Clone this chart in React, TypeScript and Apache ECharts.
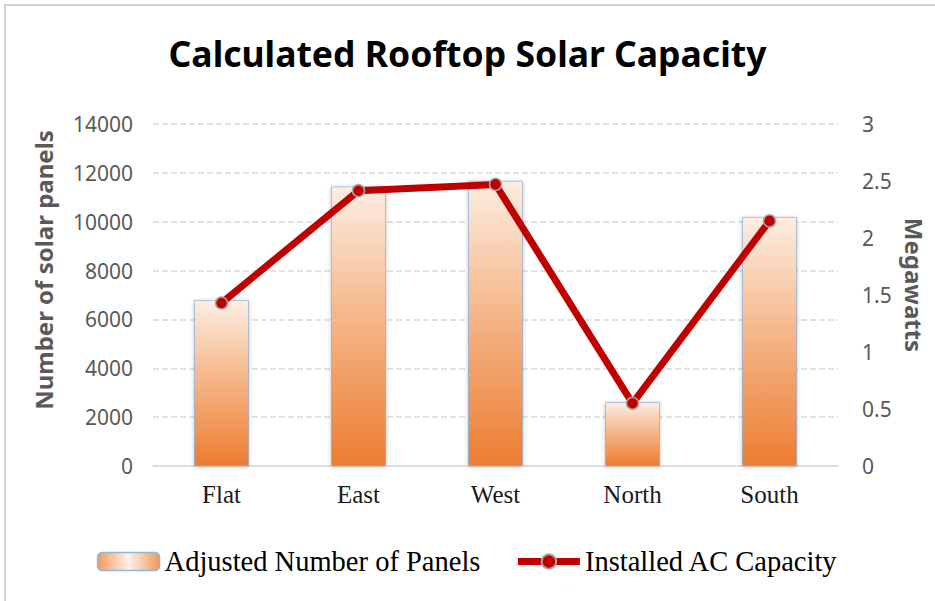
import React, { useEffect, useRef } from "react";
import * as echarts from "echarts";

const categories = ["Flat", "East", "West", "North", "South"];
const panels = [6800, 11450, 11680, 2620, 10200];
const capacityMW = [1.43, 2.415, 2.47, 0.55, 2.15];
const leftTicks = { min: 0, max: 14000, interval: 2000 };
const rightTicks = { min: 0, max: 3, interval: 0.5 };

export default function App() {
  const ref = useRef<HTMLDivElement>(null);
  useEffect(() => {
    if (!ref.current) return;
    const chart = echarts.init(ref.current, null, { renderer: "svg" });
    const barGradient = new echarts.graphic.LinearGradient(0, 0, 0, 1, [
      { offset: 0, color: "#fdede2" },
      { offset: 0.45, color: "#f5b88c" },
      { offset: 1, color: "#ed7d31" },
    ]);
    chart.setOption({
      animation: false,
      backgroundColor: "#ffffff",
      title: {
        text: "Calculated Rooftop Solar Capacity",
        left: "center",
        top: 30,
        textStyle: {
          fontFamily: "Noto Sans",
          fontWeight: "bold",
          fontSize: 35.5,
          color: "#000000",
        },
      },
      graphic: [
        {
          type: "rect",
          shape: { x: 5, y: 5, width: 940, height: 610 },
          style: { fill: "none", stroke: "#c4c4c4", lineWidth: 1.5 },
          silent: true,
        },
      ],
      legend: {
        bottom: 20,
        left: "center",
        itemWidth: 62,
        itemHeight: 18,
        itemGap: 34,
        textStyle: {
          fontFamily: "Liberation Serif",
          fontSize: 28.5,
          color: "#000000",
        },
        data: [
          {
            name: "Adjusted Number of Panels",
            itemStyle: {
              color: new echarts.graphic.LinearGradient(0, 0, 1, 0, [
                { offset: 0, color: "#f09a5c" },
                { offset: 0.5, color: "#fdf1e8" },
                { offset: 1, color: "#f09a5c" },
              ]),
              borderColor: "#8fb7e0",
              borderWidth: 1.5,
            },
          },
          {
            name: "Installed AC Capacity",
            lineStyle: { width: 7, color: "#c00000" },
          },
        ],
      },
      grid: { left: 153, right: 97, top: 124, bottom: 135 },
      xAxis: {
        type: "category",
        data: categories,
        axisLine: { lineStyle: { color: "#d9d9d9", width: 1.5 } },
        axisTick: { show: false },
        axisLabel: {
          fontFamily: "Liberation Serif",
          fontSize: 25,
          color: "#1a1a1a",
          margin: 16,
        },
      },
      yAxis: [
        {
          type: "value",
          min: leftTicks.min,
          max: leftTicks.max,
          interval: leftTicks.interval,
          name: "Number of solar panels",
          nameLocation: "middle",
          nameGap: 98,
          nameTextStyle: {
            fontFamily: "Noto Sans",
            fontWeight: "bold",
            fontSize: 24,
            color: "#595959",
            padding: [0, 0, 0, 50],
          },
          axisLabel: {
            fontFamily: "Noto Sans",
            fontSize: 21,
            color: "#595959",
            margin: 20,
            formatter: (v: number) => String(v),
          },
          axisLine: { show: false },
          axisTick: { show: false },
          splitLine: {
            lineStyle: { color: "#d9d9d9", type: [6, 3], width: 1.5 },
          },
        },
        {
          type: "value",
          min: rightTicks.min,
          max: rightTicks.max,
          interval: rightTicks.interval,
          name: "Megawatts",
          nameLocation: "middle",
          nameRotate: -90,
          nameGap: 60,
          nameTextStyle: {
            fontFamily: "Noto Sans",
            fontWeight: "bold",
            fontSize: 24,
            color: "#595959",
            padding: [0, 20, 0, 0],
          },
          axisLabel: {
            fontFamily: "Noto Sans",
            fontSize: 21,
            color: "#595959",
            margin: 24,
          },
          axisLine: { show: false },
          axisTick: { show: false },
          splitLine: { show: false },
        },
      ],
      series: [
        {
          name: "Adjusted Number of Panels",
          type: "bar",
          data: panels,
          yAxisIndex: 0,
          barWidth: 55,
          itemStyle: {
            color: barGradient,
            borderColor: "rgba(120,165,215,0.6)",
            borderWidth: 1,
            shadowBlur: 4,
            shadowColor: "rgba(0,0,0,0.25)",
            shadowOffsetY: 1,
          },
        },
        {
          name: "Installed AC Capacity",
          type: "line",
          data: capacityMW,
          yAxisIndex: 1,
          symbol: "circle",
          symbolSize: 12,
          lineStyle: { color: "#c00000", width: 7 },
          itemStyle: {
            color: "#c00000",
            borderColor: "#a6a6a6",
            borderWidth: 1.5,
          },
        },
      ],
    });
    return () => chart.dispose();
  }, []);
  return (
    <div
      ref={ref}
      style={{ position: "absolute", left: 0, top: 0, width: 935, height: 601 }}
    />
  );
}
